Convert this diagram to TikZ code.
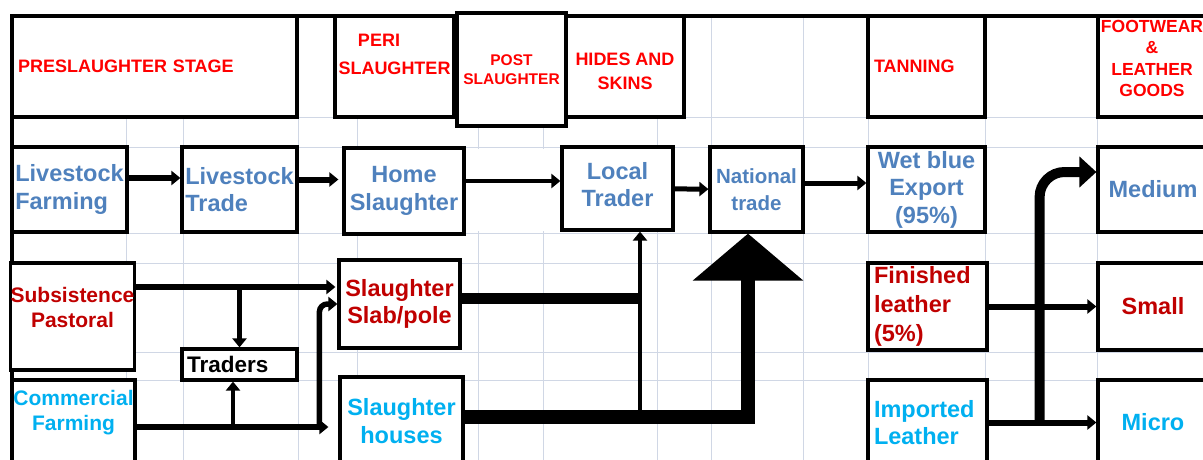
\documentclass[tikz,border=0pt]{standalone}
\usepackage{fontspec}
\setmainfont{Liberation Sans}
\usetikzlibrary{arrows.meta,calc}
\usepackage{xcolor}
\definecolor{hdrred}{RGB}{255,0,0}
\definecolor{slabred}{RGB}{192,0,0}
\definecolor{tradeblue}{RGB}{79,129,189}
\definecolor{commcyan}{RGB}{0,176,240}
\definecolor{gridgrey}{RGB}{208,215,229}

\newcommand{\hdrfont}{\bfseries\fontsize{18}{23}\selectfont}
\newcommand{\cellfont}{\bfseries\fontsize{23.5}{27.5}\selectfont}
\newcommand{\smallcellfont}{\bfseries\fontsize{21}{24.5}\selectfont}

\tikzset{
  gridline/.style={gridgrey, line width=1pt},
  hdrbox/.style={rectangle, draw, line width=3.2pt, fill=white, text=hdrred, font=\hdrfont, inner sep=0pt, align=center},
  cellbox/.style={rectangle, draw, line width=3.2pt, fill=white, font=\cellfont, inner sep=0pt, align=center},
  arr/.style={line width=5.5pt, -{Triangle[width=14pt,length=9pt]}},
}

\begin{document}
\begin{tikzpicture}[x=1pt, y=-1pt]
    \useasboundingbox (0,0) rectangle (1203,460);
    \clip (0,0) rectangle (1203,460);
    \fill[white] (0,0) rectangle (1203,460);

    % spreadsheet grid
    \foreach \gx in {126,183,298,357,478,543,657,711,803,868,985,1097}
        \draw[gridline] (\gx,16) -- (\gx,460);
    \foreach \gy in {117,147,233,263,352,380}
        \draw[gridline] (12,\gy) -- (1203,\gy);
    \fill[white] (466,149) rectangle (560,231);

    % frame
    \draw[line width=3.2pt] (12,470) -- (12,16) -- (1210,16);

    % stage headers
    \node[hdrbox, minimum width=285, minimum height=101, text width=273, align=left] (pre) at (154.5,66.5) {PRESLAUGHTER STAGE};
    \node[hdrbox, minimum width=119, minimum height=101, text depth=25pt] (peri) at (394.5,66.5) {PERI\hspace*{31pt}\\[5pt]SLAUGHTER};
    \node[hdrbox, minimum width=109, minimum height=113, font=\bfseries\fontsize{15.5}{19}\selectfont] (post) at (511.5,69.5) {POST\\SLAUGHTER};
    \node[hdrbox, minimum width=118, minimum height=101, text height=46pt, font=\bfseries\fontsize{18}{24}\selectfont] (hides) at (625,66.5) {HIDES AND\\SKINS};
    \node[hdrbox, minimum width=117, minimum height=101, text width=105, align=left] (tan) at (926.5,66.5) {TANNING};
    \node[hdrbox, minimum width=108, minimum height=101, text depth=16pt, font=\bfseries\fontsize{17.5}{21.5}\selectfont] (foot) at (1152,66.5) {FOOTWEAR\\\&\\LEATHER\\GOODS};

    % first row
    \node[cellbox, minimum width=115, minimum height=85, text=tradeblue, align=left] (lfarm) at (69.5,189.5) {Livestock\\Farming};
    \node[cellbox, minimum width=115, minimum height=85, text=tradeblue, align=left] (ltrade) at (239.5,189.5) {Livestock\\Trade};
    \node[cellbox, minimum width=120, minimum height=86, text=tradeblue] (home) at (404,191) {Home\\Slaughter};
    \node[cellbox, minimum width=111, minimum height=83, text=tradeblue, text depth=8pt] (local) at (617.5,188.5) {Local\\Trader};
    \node[cellbox, minimum width=93, minimum height=85, text=tradeblue, font=\bfseries\fontsize{20.5}{27}\selectfont] (nat) at (756.5,189.5) {National\\trade};
    \node[cellbox, minimum width=117, minimum height=85, text=tradeblue] (wet) at (926.5,189.5) {Wet blue\\Export\\(95\%)};
    \node[cellbox, minimum width=110, minimum height=85, text=tradeblue] (med) at (1153,189.5) {Medium};

    % second row
    \node[cellbox, minimum width=121, minimum height=107, text=slabred, font=\smallcellfont, text depth=18pt] (subs) at (72.5,316.5) {Subsistence\\Pastoral};
    \node[cellbox, minimum width=121, minimum height=88, text=slabred] (slab) at (399.5,304) {Slaughter\\Slab/pole};
    \node[cellbox, minimum width=115, minimum height=31, inner xsep=5pt, text width=105, align=left, font=\bfseries\fontsize{22.5}{26}\selectfont] (traders) at (239.5,364.5) {Traders};
    \node[cellbox, minimum width=119, minimum height=87, inner xsep=6pt, text width=107, text=slabred, align=left, font=\bfseries\fontsize{23.5}{29}\selectfont] (fin) at (927.5,306.5) {Finished\\leather\\(5\%)};
    \node[cellbox, minimum width=110, minimum height=87, text=slabred] (small) at (1153,306.5) {Small};

    % third row
    \node[cellbox, minimum width=123, minimum height=85, text=commcyan, font=\smallcellfont, text depth=24pt] (comm) at (73.5,422.5) {Commercial\\Farming};
    \node[cellbox, minimum width=123, minimum height=88, text=commcyan] (shouse) at (401.5,421) {Slaughter\\houses};
    \node[cellbox, minimum width=119, minimum height=85, inner xsep=6pt, text width=107, text=commcyan, align=left] (imp) at (927.5,422.5) {Imported\\Leather};
    \node[cellbox, minimum width=110, minimum height=85, text=commcyan] (micro) at (1153,422.5) {Micro};

    % flows
    \draw[arr, line width=6pt] ($(lfarm.east)+(0,-11.5)$) -- ($(ltrade.west)+(0,-11.5)$);
    \draw[arr, line width=6pt] ($(ltrade.east)+(0,-10)$) -- ($(home.west)+(-4,-11.5)$);
    \draw[arr, line width=4pt] ($(home.east)+(0,-10)$) -- ($(local.west)+(0,-7.5)$);
    \draw[arr, line width=5pt] (local) -- (nat);
    \draw[arr, line width=5pt] ($(nat.east)+(0,-6.5)$) -- ($(wet.west)+(0,-6.5)$);

    \draw[arr] ($(subs.east)+(0,-29.5)$) coordinate (sp) -- ($(slab.west)+(-2,-17)$);
    \draw[arr, line width=5pt] (sp -| traders.north) -- (traders.north);
    \draw[arr, line width=6.5pt] ($(comm.east)+(0,4.5)$) coordinate (cq) -- ($(shouse.west)+(-10,6)$);
    \coordinate (tu) at ($(traders.south)+(-6.5,0)$);
    \draw[arr, line width=4pt] (tu |- cq) -- (tu);
    \draw[arr, rounded corners=8pt] ($(shouse.west)+(-19,6)$) |- (slab.west);

    \draw[line width=14pt, -{Triangle[width=108pt,length=47pt]}] ($(shouse.east)+(0,-4)$) coordinate (sb) -| ($(nat.south)+(-8.5,0)$);
    \coordinate (jn) at ($(local.south)+(22.5,0)$);
    \draw[arr, line width=4pt] (jn |- sb) -- (jn);
    \draw[line width=11pt] ($(slab.east)+(0,-6)$) coordinate (sl) -- (sl -| jn);

    \draw[arr, line width=6pt] (fin) -- (small);
    \draw[arr, line width=6pt] (imp) -- (micro);
    \coordinate (vx) at ($(imp.east)+(51,0)$);
    \draw[line width=10pt, rounded corners=25pt, -{Triangle[width=30pt,length=17pt]}] (vx) |- ($(med.west)+(0,-17.5)$);
\end{tikzpicture}
\end{document}
